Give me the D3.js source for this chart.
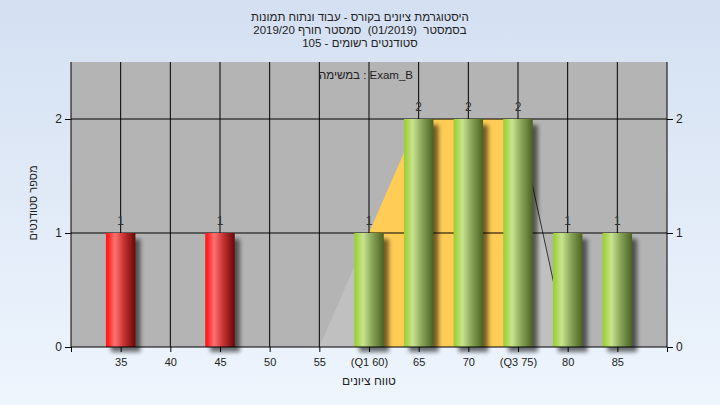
<!DOCTYPE html>
<html><head><meta charset="utf-8">
<script src="https://cdn.jsdelivr.net/npm/d3@7/dist/d3.min.js"></script>
<style>html,body{margin:0;padding:0;}svg{display:block;}text{white-space:pre;}</style>
</head><body>
<script>
const categories = [35,40,45,50,55,60,65,70,75,80,85];
const counts = [1,0,1,0,0,1,2,2,2,1,1];
const tickValues = [30,35,40,45,50,55,60,65,70,75,80,85,90];
const tickLabels = ["","35","40","45","50","55","(Q1 60)","65","70","(Q3 75)","80","85",""];
const curveX = [55,60,65,70,75,80,85];
const curveY = [0,1,2,2,2,0,0];
const q1 = 60, q3 = 75, passMark = 55;
const titleLines = ["היסטוגרמת ציונים בקורס - עבוד ונתוח תמונות","בסמסטר  (01/2019)  סמסטר חורף 2019/20","סטודנטים רשומים - 105"];
const taskLabel = "במשימה : Exam_B";
const yTitle = "מספר סטודנטים";
const xTitle = "טווח ציונים";
const yTicks = [0,1,2];

const W=720,H=405;
const L=71,R=667,T=62,B=347;
const svg=d3.select("body").append("svg").attr("width",W).attr("height",H);
const defs=svg.append("defs");
const bg=defs.append("linearGradient").attr("id","bg").attr("x1",0).attr("y1",0).attr("x2",0).attr("y2",1);
bg.append("stop").attr("offset","0").attr("stop-color","#d4e0f2");
bg.append("stop").attr("offset","1").attr("stop-color","#eef5fd");
function grad(id,stops){const g=defs.append("linearGradient").attr("id",id).attr("x1",0).attr("x2",1).attr("y1",0).attr("y2",0);
 stops.forEach(s=>g.append("stop").attr("offset",s[0]).attr("stop-color",s[1]));}
grad("red",[[0,"#ff1414"],[0.1,"#ff2a2a"],[0.3,"#ff7272"],[0.6,"#c83434"],[1,"#6a0606"]]);
grad("green",[[0,"#9ccc38"],[0.1,"#a8d448"],[0.3,"#c8e490"],[0.6,"#8aa65a"],[1,"#4a6222"]]);
const f=defs.append("filter").attr("id","blur").attr("x","-50%").attr("y","-20%").attr("width","200%").attr("height","140%");
f.append("feGaussianBlur").attr("stdDeviation",2);

svg.append("rect").attr("width",W).attr("height",H).attr("fill","url(#bg)");

const x=d3.scaleLinear().domain([30,90]).range([L,R]);
const y=d3.scaleLinear().domain([0,2.5]).range([B,T]);

svg.append("rect").attr("x",L).attr("y",T).attr("width",R-L).attr("height",B-T).attr("fill","#b4b4b4");

// curve area
const pts=curveX.map((v,i)=>[v,curveY[i]]);
const area=d3.area().x(d=>x(d[0])).y0(y(0)).y1(d=>y(d[1]));
svg.append("path").datum(pts).attr("d",area).attr("fill","#c0c0c0");
const qpts=pts.filter(d=>d[0]>=q1&&d[0]<=q3);
svg.append("path").datum(qpts).attr("d",area).attr("fill","#ffcc55");
svg.append("path").datum(pts.filter(d=>d[0]>=q3&&d[0]<=q3+5)).attr("d",d3.line().x(d=>x(d[0])).y(d=>y(d[1])))
  .attr("fill","none").attr("stroke","#333").attr("stroke-width",1);

// grid
const g=svg.append("g");
g.selectAll(".vg").data(categories).join("line").attr("x1",d=>x(d)).attr("x2",d=>x(d)).attr("y1",T).attr("y2",B).attr("stroke","#000");
g.selectAll(".hg").data(yTicks.slice(1)).join("line").attr("x1",L).attr("x2",R).attr("y1",d=>y(d)).attr("y2",d=>y(d)).attr("stroke","#000");

// bars
const bw=29.5;
const data=categories.map((c,i)=>({c,v:counts[i]})).filter(d=>d.v>0);
svg.selectAll(".sh").data(data).join("rect").attr("x",d=>x(d.c)-bw/2+5).attr("y",d=>y(d.v)+6).attr("width",bw).attr("height",d=>y(0)-y(d.v)-1)
  .attr("fill","#000").attr("opacity",0.55).attr("filter","url(#blur)");
svg.selectAll(".bar").data(data).join("rect").attr("x",d=>x(d.c)-bw/2).attr("y",d=>y(d.v)).attr("width",bw).attr("height",d=>y(0)-y(d.v))
  .attr("fill",d=>d.c<passMark?"url(#red)":"url(#green)");
svg.selectAll(".lbl").data(data).join("text").attr("x",d=>x(d.c)).attr("y",d=>y(d.v)-8).attr("text-anchor","middle")
  .attr("font-family","Liberation Sans, Arial, sans-serif").attr("font-size",12).attr("fill","#333").text(d=>d.v);

// axes
const font="Liberation Sans, Arial, sans-serif";
const xa=svg.append("g").attr("transform",`translate(0,${B})`).call(d3.axisBottom(x).tickValues(tickValues).tickFormat((d,i)=>tickLabels[i]).tickSize(5).tickPadding(6));
const ya=svg.append("g").attr("transform",`translate(${L},0)`).call(d3.axisLeft(y).tickValues(yTicks).tickFormat(d3.format("d")).tickSize(6).tickPadding(3));
const ya2=svg.append("g").attr("transform",`translate(${R},0)`).call(d3.axisRight(y).tickValues(yTicks).tickFormat(d3.format("d")).tickSize(6).tickPadding(3));
[xa,ya,ya2].forEach(a=>{a.selectAll("path").remove();a.selectAll("line").attr("stroke","#000");a.selectAll("text").attr("font-family",font).attr("font-size",11).attr("fill","#222");});
ya.selectAll("text").attr("font-size",12);ya2.selectAll("text").attr("font-size",12);
svg.append("line").attr("x1",L).attr("x2",L).attr("y1",T).attr("y2",B).attr("stroke","#000");
svg.append("line").attr("x1",R).attr("x2",R).attr("y1",T).attr("y2",B).attr("stroke","#000");
svg.append("line").attr("x1",L).attr("x2",R).attr("y1",B).attr("y2",B).attr("stroke","#000");

// texts
svg.selectAll(".tt").data(titleLines).join("text").attr("x",360).attr("y",(d,i)=>21+i*13).attr("text-anchor","middle")
  .attr("font-family",font).attr("font-size",11.5).attr("fill","#222").text(d=>d);
svg.append("text").attr("x",366).attr("y",79).attr("text-anchor","middle").attr("font-family",font).attr("font-size",11.5).attr("fill","#222").text(taskLabel);
svg.append("text").attr("transform","translate(37,203) rotate(-90)").attr("text-anchor","middle").attr("font-family",font).attr("font-size",11).attr("fill","#222").text(yTitle);
svg.append("text").attr("x",369).attr("y",385).attr("text-anchor","middle").attr("font-family",font).attr("font-size",12).attr("fill","#222").text(xTitle);
</script>
</body></html>
